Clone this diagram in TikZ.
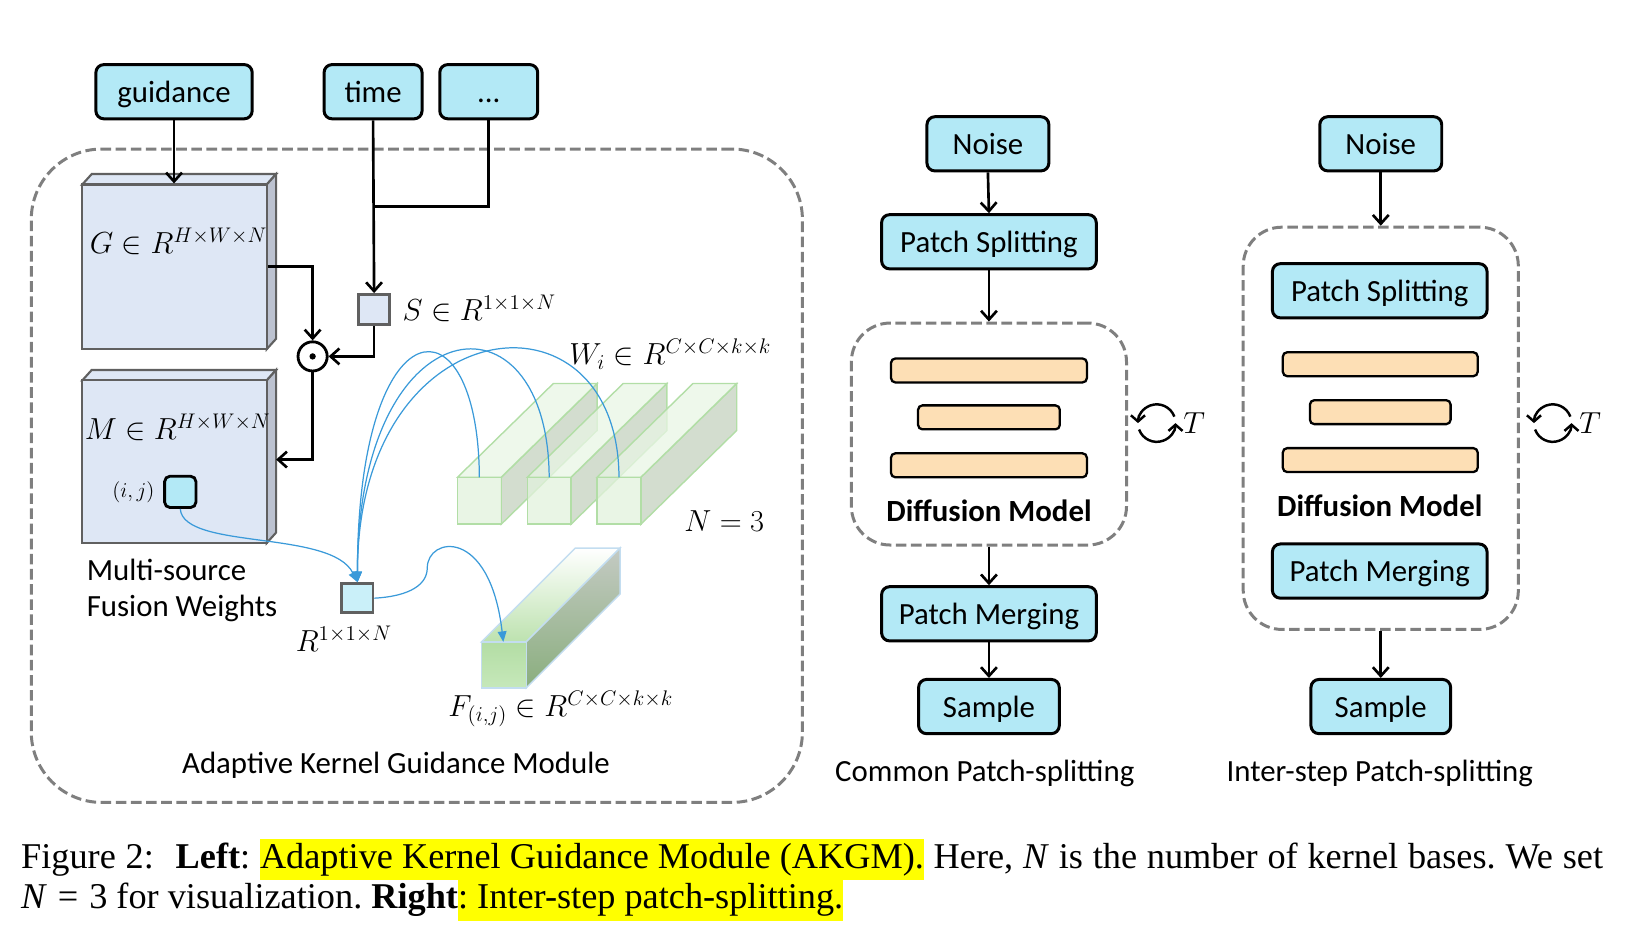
\documentclass[tikz,border=0pt]{standalone}
\usepackage{fontspec}
\setmainfont{Carlito}
\newfontfamily\capfont{Liberation Serif}
\usetikzlibrary{arrows.meta}

\definecolor{boxcyan}{HTML}{B3E9F6}
\definecolor{blockblue}{HTML}{DEE7F5}
\definecolor{blockside}{HTML}{BCC2D0}
\definecolor{blockedge}{HTML}{606060}
\definecolor{peach}{HTML}{FDDFB5}
\definecolor{curveblue}{HTML}{3A9AD9}
\definecolor{kfront}{HTML}{E2F2DC}
\definecolor{ktop}{HTML}{E8F5E4}
\definecolor{kside}{HTML}{C4D2BF}
\definecolor{kedge}{HTML}{B2DEA6}
\definecolor{fedge}{HTML}{C3DDF0}
\definecolor{ffronttop}{HTML}{B3DDA4}
\definecolor{ffrontbot}{HTML}{C6E8BA}
\definecolor{fsidetop}{HTML}{C4CAC3}
\definecolor{fsidebot}{HTML}{8AAE7E}
\definecolor{ftopfront}{HTML}{BDE2AF}
\definecolor{dashgray}{HTML}{7F7F7F}
\definecolor{hlyellow}{HTML}{FFFF00}

\newcommand{\unitpx}{0.0208cm}
\newcommand{\hlbox}[1]{{\setlength{\fboxsep}{0pt}\colorbox{hlyellow}{\strut #1}}}

\tikzset{
  tbox/.style={draw, line width=1.7pt, rounded corners=4.5pt, fill=boxcyan, inner sep=0pt,
    minimum height=52*\unitpx, text height=15pt, text depth=3pt, font=\fontsize{17.5}{21}\selectfont},
  dbox/.style={draw=dashgray, line width=1.7pt, dash pattern=on 6pt off 2.6pt, inner sep=0pt},
  bar/.style={draw, line width=1.3pt, rounded corners=2.5pt, fill=peach, inner sep=0pt,
    minimum height=23*\unitpx},
  lbl/.style={inner sep=0pt, font=\fontsize{17.5}{20.5}\selectfont},
  mlbl/.style={inner sep=0pt, font=\fontsize{17.5}{20}\selectfont},
  arr/.style={line width=1.5pt, -{Straight Barb[length=5pt,width=9pt]}},
  bluearr/.style={draw=curveblue, line width=0.7pt, -{Triangle[length=6pt,width=5pt]}},
  cyc/.style={line width=1.4pt, -{Straight Barb[length=3.5pt,width=8pt]}},
  kface/.style={draw=kedge, line width=0.8pt, fill opacity=0.75},
  cell/.style={draw=blockedge, line width=1.5pt, inner sep=0pt},
}

\begin{document}
\begin{tikzpicture}[x=\unitpx, y=-\unitpx]
\useasboundingbox (0,0) rectangle (1568,900);

% Drawing module frame
\node[dbox, rounded corners=40pt, minimum width=740*\unitpx, minimum height=627*\unitpx] (akgm) at (400,456.5) {};
\node[lbl] (akgmlabel) at (380,734) {Adaptive Kernel Guidance Module};

% Drawing inputs
\node[tbox, minimum width=150*\unitpx] (guidance) at (167,88) {guidance};
\node[tbox, minimum width=94*\unitpx] (time) at (358,88) {time};
\node[tbox, minimum width=94*\unitpx] (dots) at (469,88) {...};

% Drawing block G
\draw[fill=blockblue, draw=blockedge, line width=1.2pt] (79,177) -- (88,167) -- (265,167) -- (256,177) -- cycle;
\draw[fill=blockside, draw=blockedge, line width=1.2pt] (256,177) -- (265,167) -- (265,325) -- (256,335) -- cycle;
\node[cell, line width=1.2pt, fill=blockblue, minimum width=177*\unitpx, minimum height=158*\unitpx] (G) at (167.5,256) {};
\node[mlbl, anchor=west] (Glabel) at (86,232) {$G \in R^{H\times W\times N}$};

% Drawing block M
\draw[fill=blockblue, draw=blockedge, line width=1.2pt] (79,365) -- (88,355) -- (265,355) -- (256,365) -- cycle;
\draw[fill=blockside, draw=blockedge, line width=1.2pt] (256,365) -- (265,355) -- (265,511) -- (256,521) -- cycle;
\node[cell, line width=1.2pt, fill=blockblue, minimum width=177*\unitpx, minimum height=156*\unitpx] (M) at (167.5,443) {};
\node[mlbl, anchor=west] (Mlabel) at (81,410) {$M \in R^{H\times W\times N}$};
\node[draw, line width=1.6pt, rounded corners=3pt, fill=boxcyan, minimum size=30*\unitpx] (ij) at (173,472) {};
\node[mlbl, font=\fontsize{13}{15}\selectfont] (ijlabel) at (128,472) {$(i,j)$};
\node[lbl, anchor=west, align=left] (fusion) at (83,567) {Multi-source\\Fusion Weights};

% Drawing S and fusion point
\node[cell, fill=blockblue, minimum width=30*\unitpx, minimum height=29*\unitpx] (S) at (359,297) {};
\node[mlbl, anchor=west] (Slabel) at (386,296) {$S \in R^{1\times 1\times N}$};
\node[circle, draw, line width=1.6pt, fill=white, minimum size=28*\unitpx, inner sep=0pt] (odot) at (300,342) {};
\fill (odot) circle (1.8pt);
\coordinate (tj) at (358,198);
\coordinate (Min) at (265,441);

% Drawing black connectors
\draw[arr] (guidance.south) -- (guidance.south |- G.north);
\draw[arr] (time.south) -- (S.north);
\draw[line width=1.5pt] (dots.south) |- (tj);
\draw[arr] (G.east) -| (odot.north);
\draw[arr] (S.south) |- (odot.east);
\draw[arr] (odot.south) |- (Min);

% Drawing kernel bases W1 W2 W3
\draw[kface, fill=kside] (481,458) -- (573,368) -- (573,413) -- (481,503) -- cycle;
\draw[kface, fill=ktop] (439,458) -- (531,368) -- (573,368) -- (481,458) -- cycle;
\draw[kface, fill=kfront] (439,458) rectangle (481,503);
\draw[kface, fill=kside] (548,458) -- (640,368) -- (640,413) -- (548,503) -- cycle;
\draw[kface, fill=ktop] (506,458) -- (598,368) -- (640,368) -- (548,458) -- cycle;
\draw[kface, fill=kfront] (506,458) rectangle (548,503);
\draw[kface, fill=kside] (615,458) -- (707,368) -- (707,413) -- (615,503) -- cycle;
\draw[kface, fill=ktop] (573,458) -- (665,368) -- (707,368) -- (615,458) -- cycle;
\draw[kface, fill=kfront] (573,458) rectangle (615,503);
\coordinate (W1) at (460,458);
\coordinate (W2) at (527,458);
\coordinate (W3) at (594,458);
\node[mlbl, anchor=west] (Wlabel) at (546,340) {$W_i \in R^{C\times C\times k\times k}$};
\node[mlbl] (Nlabel) at (695,500) {$N = 3$};

% Drawing fused kernel F
\shade[draw=fedge, line width=0.8pt, top color=white, bottom color=ftopfront] (462,616) -- (552,526) -- (595,526) -- (505,616) -- cycle;
\shade[draw=fedge, line width=0.8pt, top color=fsidetop, bottom color=fsidebot] (505,616) -- (595,526) -- (595,570) -- (505,660) -- cycle;
\shade[draw=fedge, line width=0.8pt, top color=ffronttop, bottom color=ffrontbot] (462,616) rectangle (505,660);
\coordinate (Fin) at (483,616);
\node[mlbl, anchor=west] (Flabel) at (430,680) {$F_{(i,j)} \in R^{C\times C\times k\times k}$};

% Drawing weight vector R
\node[cell, fill=boxcyan!70!white, minimum width=30*\unitpx, minimum height=28*\unitpx] (Rw) at (343,574) {};
\node[mlbl] (Rlabel) at (330,613) {$R^{1\times 1\times N}$};

% Drawing blue curves
\draw[bluearr] (ij.south) .. controls (176,528) and (318,508) .. (Rw.north);
\draw[bluearr] (W1) .. controls (459,280) and (343,290) .. (Rw.north);
\draw[bluearr] (W2) .. controls (526,272) and (343,292) .. (Rw.north);
\draw[bluearr] (W3) .. controls (593,268) and (343,294) .. (Rw.north);
\draw[bluearr] (Rw.east) .. controls (395,572) and (410,560) .. (410,545) .. controls (410,515) and (470,505) .. (Fin);

% Drawing common patch-splitting
\node[tbox, minimum width=117*\unitpx] (noiseA) at (948,138) {Noise};
\node[tbox, minimum width=206*\unitpx] (splitA) at (949,232) {Patch Splitting};
\node[dbox, rounded corners=22pt, minimum width=264*\unitpx, minimum height=213*\unitpx] (dmA) at (949,416.5) {};
\node[bar, minimum width=188*\unitpx] (barA1) at (949,355.5) {};
\node[bar, minimum width=136*\unitpx] (barA2) at (949,400.5) {};
\node[bar, minimum width=188*\unitpx] (barA3) at (949,446.5) {};
\node[lbl, font=\fontsize{17.5}{20.5}\selectfont\bfseries] (dmlabelA) at (949,490) {Diffusion Model};
\node[tbox, minimum width=206*\unitpx] (mergeA) at (949,589) {Patch Merging};
\node[tbox, minimum width=135*\unitpx] (sampleA) at (949,678) {Sample};
\node[lbl] (titleA) at (945,742) {Common Patch-splitting};
\draw[arr] (noiseA.south) -- (splitA.north);
\draw[arr] (splitA.south) -- (dmA.north);
\draw[arr] (dmA.south) -- (mergeA.north);
\draw[arr] (mergeA.south) -- (sampleA.north);
\coordinate (cycA) at (1110,406);
\draw[cyc] ([shift={(-20:18)}]cycA) arc (-20:-180:18);
\draw[cyc] ([shift={(-200:18)}]cycA) arc (-200:-360:18);
\node[mlbl] (TA) at (1146,406) {$T$};

% Drawing inter-step patch-splitting
\node[tbox, minimum width=117*\unitpx] (noiseB) at (1325,138) {Noise};
\node[dbox, rounded corners=22pt, minimum width=264*\unitpx, minimum height=386*\unitpx] (dmB) at (1325,411) {};
\node[tbox, minimum width=206*\unitpx] (splitB) at (1324,279) {Patch Splitting};
\node[bar, minimum width=187*\unitpx] (barB1) at (1324.5,349.5) {};
\node[bar, minimum width=135*\unitpx] (barB2) at (1324.5,395.5) {};
\node[bar, minimum width=187*\unitpx] (barB3) at (1324.5,441.5) {};
\node[lbl, font=\fontsize{17.5}{20.5}\selectfont\bfseries] (dmlabelB) at (1324,485) {Diffusion Model};
\node[tbox, minimum width=206*\unitpx] (mergeB) at (1324,548) {Patch Merging};
\node[tbox, minimum width=134*\unitpx] (sampleB) at (1325,678) {Sample};
\node[lbl] (titleB) at (1324,742) {Inter-step Patch-splitting};
\draw[arr] (noiseB.south) -- (dmB.north);
\draw[arr] (dmB.south) -- (sampleB.north);
\coordinate (cycB) at (1490,406);
\draw[cyc] ([shift={(-20:18)}]cycB) arc (-20:-180:18);
\draw[cyc] ([shift={(-200:18)}]cycB) arc (-200:-360:18);
\node[mlbl] (TB) at (1526,406) {$T$};

% Drawing caption
\node[anchor=base west, inner sep=0pt, font=\capfont\fontsize{20.6}{23.4}\selectfont] (capA) at (20,833)
  {\frenchspacing\hbox to 31.57cm{Figure 2:\hspace{0.6em}\textbf{Left}: \hlbox{Adaptive Kernel Guidance Module (AKGM).} Here, \textit{N} is the number of kernel bases. We set}};
\node[anchor=base west, inner sep=0pt, font=\capfont\fontsize{20.6}{23.4}\selectfont] (capB) at (20,872)
  {\frenchspacing\textit{N}\hspace{0.3em}=\hspace{0.3em}3 for visualization. \textbf{Right}\hlbox{: Inter-step patch-splitting.}};
\end{tikzpicture}
\end{document}
